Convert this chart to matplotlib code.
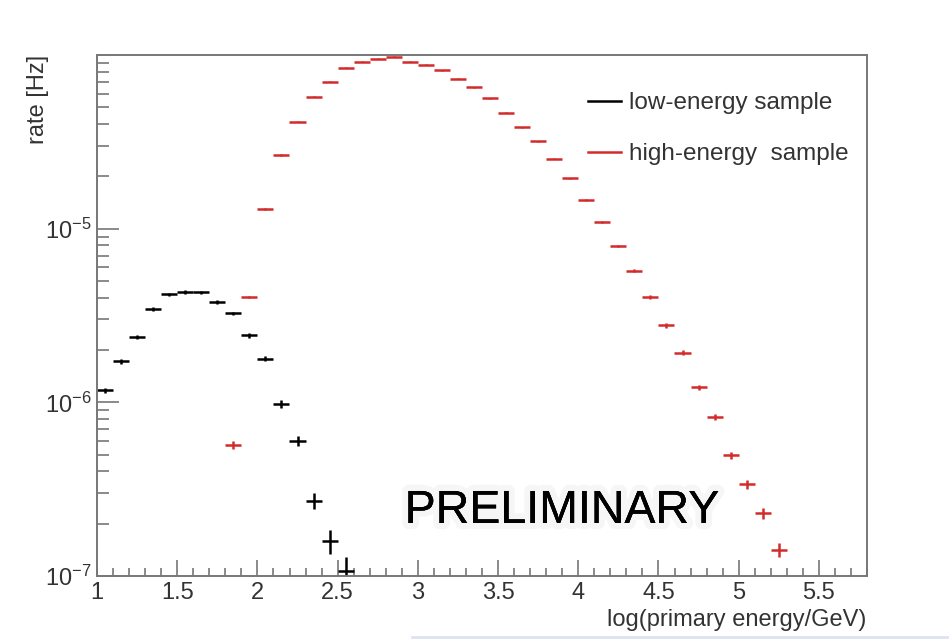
import matplotlib
matplotlib.use("Agg")
import matplotlib.pyplot as plt
import matplotlib.patheffects as pe
from matplotlib.lines import Line2D
import numpy as np

plt.rcParams['font.family'] = ['Liberation Sans', 'DejaVu Sans']
plt.rcParams['mathtext.fontset'] = 'custom'
plt.rcParams['mathtext.rm'] = 'Liberation Sans'
plt.rcParams['mathtext.it'] = 'Liberation Sans:italic'
plt.rcParams['mathtext.default'] = 'regular'

# ---- data (bin centres in log10(E/GeV), rate in Hz) ----
low_x = [1.05, 1.15, 1.25, 1.35, 1.45, 1.55, 1.65, 1.75, 1.85, 1.95,
         2.05, 2.15, 2.25, 2.35, 2.45, 2.55]
low_y = [1.17e-6, 1.72e-6, 2.38e-6, 3.45e-6, 4.19e-6, 4.32e-6, 4.30e-6, 3.77e-6,
         3.25e-6, 2.43e-6, 1.78e-6, 9.8e-7, 5.98e-7, 2.72e-7, 1.58e-7, 1.07e-7]
low_err = [3.5e-8, 5e-8, 6e-8, 8e-8, 9e-8, 9e-8, 9e-8, 9e-8, 8e-8, 7e-8,
           6e-8, 5e-8, 4e-8, 3e-8, 2.5e-8, 2.2e-8]

high_x = [1.85, 1.95, 2.05, 2.15, 2.25, 2.35, 2.45, 2.55, 2.65, 2.75, 2.85,
          2.95, 3.05, 3.15, 3.25, 3.35, 3.45, 3.55, 3.65, 3.75, 3.85, 3.95,
          4.05, 4.15, 4.25, 4.35, 4.45, 4.55, 4.65, 4.75, 4.85, 4.95, 5.05,
          5.15, 5.25]
high_y = [5.7e-7, 4.04e-6, 1.30e-5, 2.65e-5, 4.14e-5, 5.74e-5, 7.03e-5, 8.47e-5,
          9.14e-5, 9.51e-5, 9.77e-5, 9.14e-5, 8.81e-5, 8.17e-5, 7.32e-5, 6.53e-5,
          5.64e-5, 4.64e-5, 3.84e-5, 3.19e-5, 2.53e-5, 1.95e-5, 1.46e-5, 1.09e-5,
          7.91e-6, 5.73e-6, 4.04e-6, 2.77e-6, 1.93e-6, 1.22e-6, 8.22e-7, 4.96e-7,
          3.38e-7, 2.30e-7, 1.42e-7]
high_err = [3e-8, 5e-8, 1.5e-7, 2.5e-7, 3.5e-7, 4.5e-7, 5e-7, 6e-7,
            6e-7, 6e-7, 6e-7, 6e-7, 6e-7, 5.5e-7, 5e-7, 4.5e-7,
            4e-7, 3.5e-7, 3e-7, 2.6e-7, 2.2e-7, 1.8e-7, 1.5e-7, 1.3e-7,
            1.1e-7, 1.0e-7, 1.0e-7, 8e-8, 6e-8, 4.5e-8, 3.5e-8, 2.5e-8,
            2e-8, 1.6e-8, 1.3e-8]
bin_half = 0.05

x_ticks = [1, 1.5, 2, 2.5, 3, 3.5, 4, 4.5, 5, 5.5]
x_ticklabels = ['1', '1.5', '2', '2.5', '3', '3.5', '4', '4.5', '5', '5.5']

red = '#d42a2a'
fs = 17

fig = plt.figure(figsize=(9.49, 6.44), dpi=100)
ax = fig.add_axes([97/949, 1-576/644, (867-97)/949, (576-55)/644])

ax.errorbar(low_x, low_y, xerr=bin_half, yerr=low_err, fmt='none',
            ecolor='black', elinewidth=1.8, capsize=0)
ax.errorbar(high_x, high_y, xerr=bin_half, yerr=high_err, fmt='none',
            ecolor=red, elinewidth=1.8, capsize=0)

ax.set_yscale('log')
ax.set_xlim(1, 5.8)
ax.set_ylim(1e-7, 1e-4)

ax.set_xticks(x_ticks)
ax.set_xticklabels(x_ticklabels)
ax.set_xticks(np.arange(1.0, 5.81, 0.1), minor=True)
ax.set_yticks([1e-7, 1e-6, 1e-5])
ax.set_yticklabels([r'$10^{-7}$', r'$10^{-6}$', r'$10^{-5}$'])

for s in ['top', 'right', 'left', 'bottom']:
    ax.spines[s].set_color('#777777')
    ax.spines[s].set_linewidth(1.4)

ax.tick_params(axis='x', which='major', direction='in', length=11.5, width=1.2,
               color='#777777', labelsize=fs, labelcolor='#333333', pad=4)
ax.tick_params(axis='x', which='minor', direction='in', length=5.5, width=1.2,
               color='#777777')
ax.tick_params(axis='y', which='major', direction='in', length=16, width=1.2,
               color='#777777', labelsize=fs, labelcolor='#333333', pad=4)
ax.tick_params(axis='y', which='minor', direction='in', length=8.5, width=1.2,
               color='#777777')
ax.tick_params(top=False, right=False, which='both')

# legend
handles = [Line2D([], [], color='black', lw=1.8),
           Line2D([], [], color=red, lw=1.8)]
leg = fig.legend(handles, ['low-energy sample', 'high-energy  sample'],
                 loc='upper left', bbox_to_anchor=(588/949, 1-92/644),
                 bbox_transform=fig.transFigure, frameon=False,
                 fontsize=17.5, handlelength=1.35, handletextpad=0.35,
                 labelspacing=1.2, borderpad=0, borderaxespad=0)
for t in leg.get_texts():
    t.set_color('#333333')

fig.text(38/949, 1-55/644, 'rate [Hz]', rotation=90, ha='center', va='top',
         fontsize=fs, color='#333333')
fig.text(866/949, 1-620/644, 'log(primary energy/GeV)', ha='right',
         va='center', fontsize=fs, color='#333333')

prelim = fig.text(562/949, 1-511/644, 'PRELIMINARY', ha='center', va='center',
                  fontsize=33.5, color='black')
prelim.set_path_effects([
    pe.withStroke(linewidth=9, foreground=(0, 0, 0, 0.035)),
    pe.Normal()])

fig.add_artist(Line2D([412/949, 1.0], [1-637/644, 1-637/644],
                      transform=fig.transFigure, color='#dde3f0', lw=2))

fig.savefig('out.png', dpi=100)
